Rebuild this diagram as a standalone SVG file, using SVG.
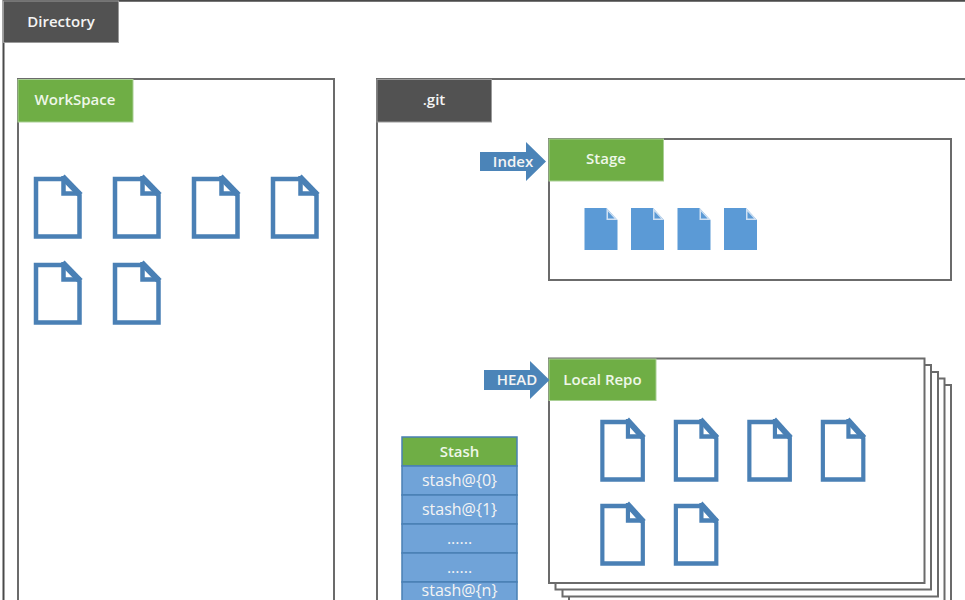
<svg xmlns="http://www.w3.org/2000/svg" width="965" height="600" viewBox="0 0 965 600">
<style>
.frame{fill:#fff;stroke:#6b6b6b;stroke-width:2}
.frame-dark{fill:none;stroke:#4a4a4a;stroke-width:2}
.dark{fill:#525252;stroke:#9a9a9a;stroke-width:1}
.green{fill:#6fae45;stroke:#a9cf94;stroke-width:1}
.label{font-family:"Open Sans","Liberation Sans",sans-serif;font-size:15px;font-weight:600;fill:#f4f4f4;text-anchor:middle}
.lg{fill:#eef7e8}
.arrow{fill:#4b84b8}
.row{fill:#70a3d8;stroke:#4a80b4;stroke-width:1.5}
.stash-text{font-size:16px;font-weight:500}
.file{fill:#fff;stroke:#4a80b5;stroke-width:4.5;stroke-linejoin:miter}
.fold{fill:none;stroke:#4a80b5;stroke-width:4.5}
.solid{fill:#5b9ad6}
.solid-fold{fill:#cfe0f2}
</style>
<defs>
<g id="doc">
<path class="file" d="M2 2H29.500L45.500 18.500V59.500H2Z"/>
<path class="fold" d="M29.500 -1V16.500H47"/>
<path class="fold" d="M29 -1L47 17.500"/>
</g>
<g id="sdoc">
<path class="solid" d="M0 0H22L33 12V42H0Z"/>
<path class="solid-fold" d="M22 0V12H33ZM23.500 3.500V10.500H30Z" fill-rule="evenodd"/>
</g>
</defs>
<g id="directory">
<path class="frame-dark" d="M3.500 600V0.800H965"/>
<rect class="dark" x="3.500" y="1" width="115" height="41.500"/>
<text class="label" x="61" y="27">Directory</text>
</g>
<g id="workspace">
<path class="frame" d="M18 601V79H334V601"/>
<rect class="green" x="18" y="79.500" width="115" height="42.500"/>
<text class="label lg" x="75" y="105">WorkSpace</text>
<use href="#doc" x="34" y="177"/>
<use href="#doc" x="113" y="177"/>
<use href="#doc" x="192" y="177"/>
<use href="#doc" x="271" y="177"/>
<use href="#doc" x="34" y="263"/>
<use href="#doc" x="113" y="263"/>
</g>
<g id="git">
<path class="frame" d="M377 601V79H966"/>
<rect class="dark" x="377" y="79.500" width="114.500" height="42.500"/>
<text class="label" x="434" y="105">.git</text>
</g>
<g id="stage">
<rect class="frame" x="549" y="139" width="402" height="141"/>
<rect class="green" x="549" y="139" width="114.500" height="42"/>
<text class="label lg" x="606" y="164">Stage</text>
<use href="#sdoc" x="584.500" y="208"/>
<use href="#sdoc" x="631" y="208"/>
<use href="#sdoc" x="677.500" y="208"/>
<use href="#sdoc" x="724" y="208"/>
</g>
<g id="index">
<path class="arrow" d="M480 152H526V142L546 161.500L526 181V171H480Z"/>
<text class="label" x="513" y="167">Index</text>
</g>
<g id="local-repo">
<rect class="frame" x="575.500" y="385" width="375.500" height="224.500"/>
<rect class="frame" x="569" y="378.500" width="375.500" height="224.500"/>
<rect class="frame" x="562.500" y="372" width="375.500" height="224.500"/>
<rect class="frame" x="555.500" y="365" width="375.500" height="224.500"/>
<rect class="frame" x="549" y="358.500" width="375.500" height="224.500"/>
<rect class="green" x="549" y="359" width="107" height="41.500"/>
<text class="label lg" x="602.500" y="385">Local Repo</text>
<use href="#doc" transform="translate(600.500 420) scale(.93 1)"/>
<use href="#doc" transform="translate(674 420) scale(.93 1)"/>
<use href="#doc" transform="translate(747.500 420) scale(.93 1)"/>
<use href="#doc" transform="translate(821 420) scale(.93 1)"/>
<use href="#doc" transform="translate(600.500 504) scale(.93 1)"/>
<use href="#doc" transform="translate(674 504) scale(.93 1)"/>
</g>
<g id="head">
<path class="arrow" d="M484 370H530V361L549.500 380L530 399V390H484Z"/>
<text class="label" x="517" y="385">HEAD</text>
</g>
<g id="stash">
<rect x="402" y="437" width="115" height="29" fill="#6fae45" stroke="#4a80b4" stroke-width="1.500"/>
<rect class="row" x="402" y="466" width="115" height="29"/>
<rect class="row" x="402" y="495" width="115" height="29"/>
<rect class="row" x="402" y="524" width="115" height="29"/>
<rect class="row" x="402" y="553" width="115" height="29"/>
<rect class="row" x="402" y="582" width="115" height="29"/>
<text class="label lg" x="459.500" y="456.500">Stash</text>
<text class="label stash-text" x="459.500" y="485.500">stash@{0}</text>
<text class="label stash-text" x="459.500" y="514.500">stash@{1}</text>
<text class="label stash-text" x="459.500" y="543.500">......</text>
<text class="label stash-text" x="459.500" y="572.500">......</text>
<text class="label stash-text" x="459.500" y="596">stash@{n}</text>
</g>
<g id="connectors"/>
</svg>
